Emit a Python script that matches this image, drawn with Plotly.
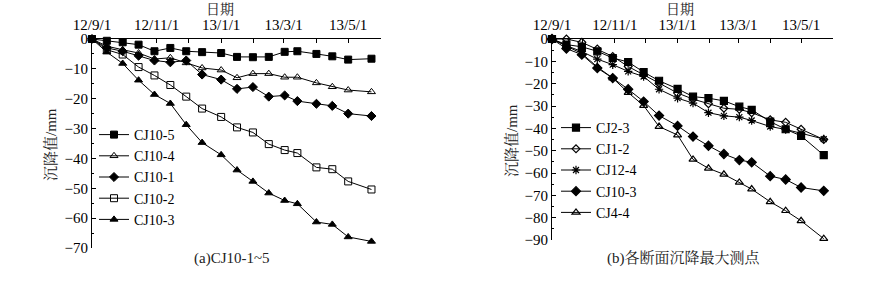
import plotly.graph_objects as go

# ---------------- data ----------------
dates = ["2012-09-01", "2012-09-15", "2012-09-30", "2012-10-15", "2012-10-30",
         "2012-11-14", "2012-11-29", "2012-12-14", "2013-01-01", "2013-01-16",
         "2013-01-31", "2013-02-15", "2013-03-02", "2013-03-14", "2013-04-01",
         "2013-04-16", "2013-05-01", "2013-05-23"]

tick_vals = ["2012-09-01", "2012-10-01", "2012-11-01", "2012-12-01", "2013-01-01",
             "2013-02-01", "2013-03-01", "2013-04-01", "2013-05-01", "2013-06-01"]
tick_text = ["12/9/1", "", "12/11/1", "", "13/1/1", "", "13/3/1", "", "13/5/1", ""]

# panel (a)
cj10_5 = [0, -0.6, -1.1, -1.9, -4.1, -3.0, -4.1, -4.4, -4.7, -6.0, -6.1, -6.0,
          -4.3, -4.1, -5.0, -5.8, -6.9, -6.6]
cj10_4 = [0, -2.4, -3.6, -4.7, -6.7, -6.3, -8.0, -9.7, -10.4, -13.0, -11.6, -11.6,
          -12.8, -12.8, -14.7, -16.0, -17.1, -17.7]
cj10_1 = [0, -3.0, -4.1, -5.6, -7.2, -7.8, -7.2, -11.9, -13.6, -16.7, -16.1, -19.3,
          -18.9, -20.8, -21.7, -22.4, -25.0, -25.8]
cj10_2 = [0, -3.6, -5.2, -9.4, -12.2, -15.4, -19.3, -23.3, -26.1, -29.6, -31.3, -35.2,
          -37.2, -38.2, -43.0, -43.6, -47.7, -50.4]
cj10_3a = [0, -4.4, -8.2, -13.8, -18.6, -21.6, -28.7, -34.7, -38.8, -43.9, -47.7, -51.6,
           -54.1, -55.2, -61.3, -62.1, -66.3, -67.8]

# panel (b)
cj2_3 = [0, -2.5, -3.5, -5.5, -8.5, -10.3, -14.8, -18.7, -22.3, -25.8, -26.5, -27.7,
         -30.3, -31.7, -37.0, -40.4, -43.4, -52.0]
cj1_2 = [0, 0, -1.5, -4.5, -7.8, -12.3, -16.0, -19.8, -24.2, -26.9, -29.0, -31.0,
         -31.5, -33.0, -36.2, -37.3, -40.4, -45.0]
cj12_4 = [0, -3.0, -5.6, -9.0, -11.5, -14.5, -16.8, -22.5, -26.5, -28.7, -33.0, -34.4,
          -35.0, -36.5, -39.2, -40.5, -42.2, -44.8]
cj10_3b = [0, -4.3, -7.0, -13.0, -17.5, -22.5, -28.0, -34.3, -38.9, -43.7, -47.8, -51.5,
           -54.2, -55.2, -61.4, -62.9, -66.5, -68.0]
cj4_4 = [0, -3.0, -6.5, -12.5, -17.5, -24.0, -29.8, -39.2, -43.0, -53.9, -57.9, -60.6,
         -64.2, -67.2, -72.9, -76.9, -81.4, -89.4]

left_series = [("CJ10-5", cj10_5, "square"), ("CJ10-4", cj10_4, "triangle-up-open"),
               ("CJ10-1", cj10_1, "diamond"), ("CJ10-2", cj10_2, "square-open"),
               ("CJ10-3", cj10_3a, "triangle-up")]
right_series = [("CJ2-3", cj2_3, "square"), ("CJ1-2", cj1_2, "diamond-open"),
                ("CJ12-4", cj12_4, "asterisk-open"), ("CJ10-3", cj10_3b, "diamond"),
                ("CJ4-4", cj4_4, "triangle-up-open")]

FONT = "Liberation Serif, Noto Serif CJK SC, Noto Sans CJK SC, serif"
W, H = 888, 281


def px(x):
    return x / W


def py(y):
    return 1 - y / H


fig = go.Figure()
for name, vals, sym in left_series:
    fig.add_trace(go.Scatter(
        x=dates, y=vals, name=name, mode="lines+markers", xaxis="x", yaxis="y",
        line=dict(color="black", width=1),
        marker=dict(symbol=sym, size=7, color="black", line=dict(color="black", width=1)),
        cliponaxis=False, legend="legend"))
for name, vals, sym in right_series:
    fig.add_trace(go.Scatter(
        x=dates, y=vals, name=name, mode="lines+markers", xaxis="x2", yaxis="y2",
        line=dict(color="black", width=1),
        marker=dict(symbol=sym, size=7 if sym != "diamond-open" else 6, color="black",
                    line=dict(color="black", width=1.2)),
        cliponaxis=False, legend="legend2"))

xcommon = dict(type="date", range=["2012-09-01", "2013-06-01"], side="top",
               showline=True, linecolor="black", linewidth=1, ticks="inside",
               ticklen=4, tickcolor="black", tickvals=tick_vals, ticktext=tick_text,
               showgrid=False, zeroline=False, automargin=False,
               ticklabelstandoff=2,
               tickfont=dict(family=FONT, size=15, color="black"))
ycommon = dict(dtick=10, ticks="inside", ticklen=4, tickcolor="black",
               showline=True, linecolor="black", linewidth=1, showgrid=False,
               zeroline=False, automargin=False,
               minor=dict(dtick=5, ticks="inside", ticklen=2,
                          tickcolor="black", showgrid=False),
               tickfont=dict(family=FONT, size=15, color="black"))

fig.update_layout(
    width=W, height=H, margin=dict(l=0, r=0, t=0, b=0),
    paper_bgcolor="white", plot_bgcolor="white",
    font=dict(family=FONT, size=15, color="black"),
    xaxis=dict(domain=[px(92), px(381)], anchor="y", **xcommon),
    yaxis=dict(domain=[py(248), py(39)], anchor="x", range=[-70, 0], **ycommon),
    xaxis2=dict(domain=[px(552), px(833)], anchor="y2", **xcommon),
    yaxis2=dict(domain=[py(240), py(39)], anchor="x2", range=[-90, 0], **ycommon),
    legend=dict(x=px(94), y=py(119), xanchor="left", yanchor="top",
                bgcolor="rgba(0,0,0,0)", font=dict(family=FONT, size=14),
                tracegroupgap=0, itemwidth=30),
    legend2=dict(x=px(556), y=py(112), xanchor="left", yanchor="top",
                 bgcolor="rgba(0,0,0,0)", font=dict(family=FONT, size=14),
                 tracegroupgap=0, itemwidth=30),
    showlegend=True,
)

ann = [
    dict(text="日期", x=px(220), y=py(10), size=14),
    dict(text="日期", x=px(680), y=py(10), size=14),
    dict(text="沉降值/mm", x=px(50), y=py(145), textangle=-90, size=15),
    dict(text="沉降值/mm", x=px(511), y=py(140), textangle=-90, size=15),
    dict(text="(a)CJ10-1~5", x=px(232), y=py(258), size=15),
    dict(text="(b)各断面沉降最大测点", x=px(683), y=py(258), size=15),
]
for a in ann:
    size = a.pop("size")
    fig.add_annotation(xref="paper", yref="paper", showarrow=False,
                       xanchor="center", yanchor="middle",
                       font=dict(family=FONT, size=size, color="#222"), **a)

# remove the default page margin so the figure sits at the window's top-left corner
fig.write_html("out.html", config={"displayModeBar": False},
               post_script="document.body.style.margin='0';document.body.style.padding='0';")
